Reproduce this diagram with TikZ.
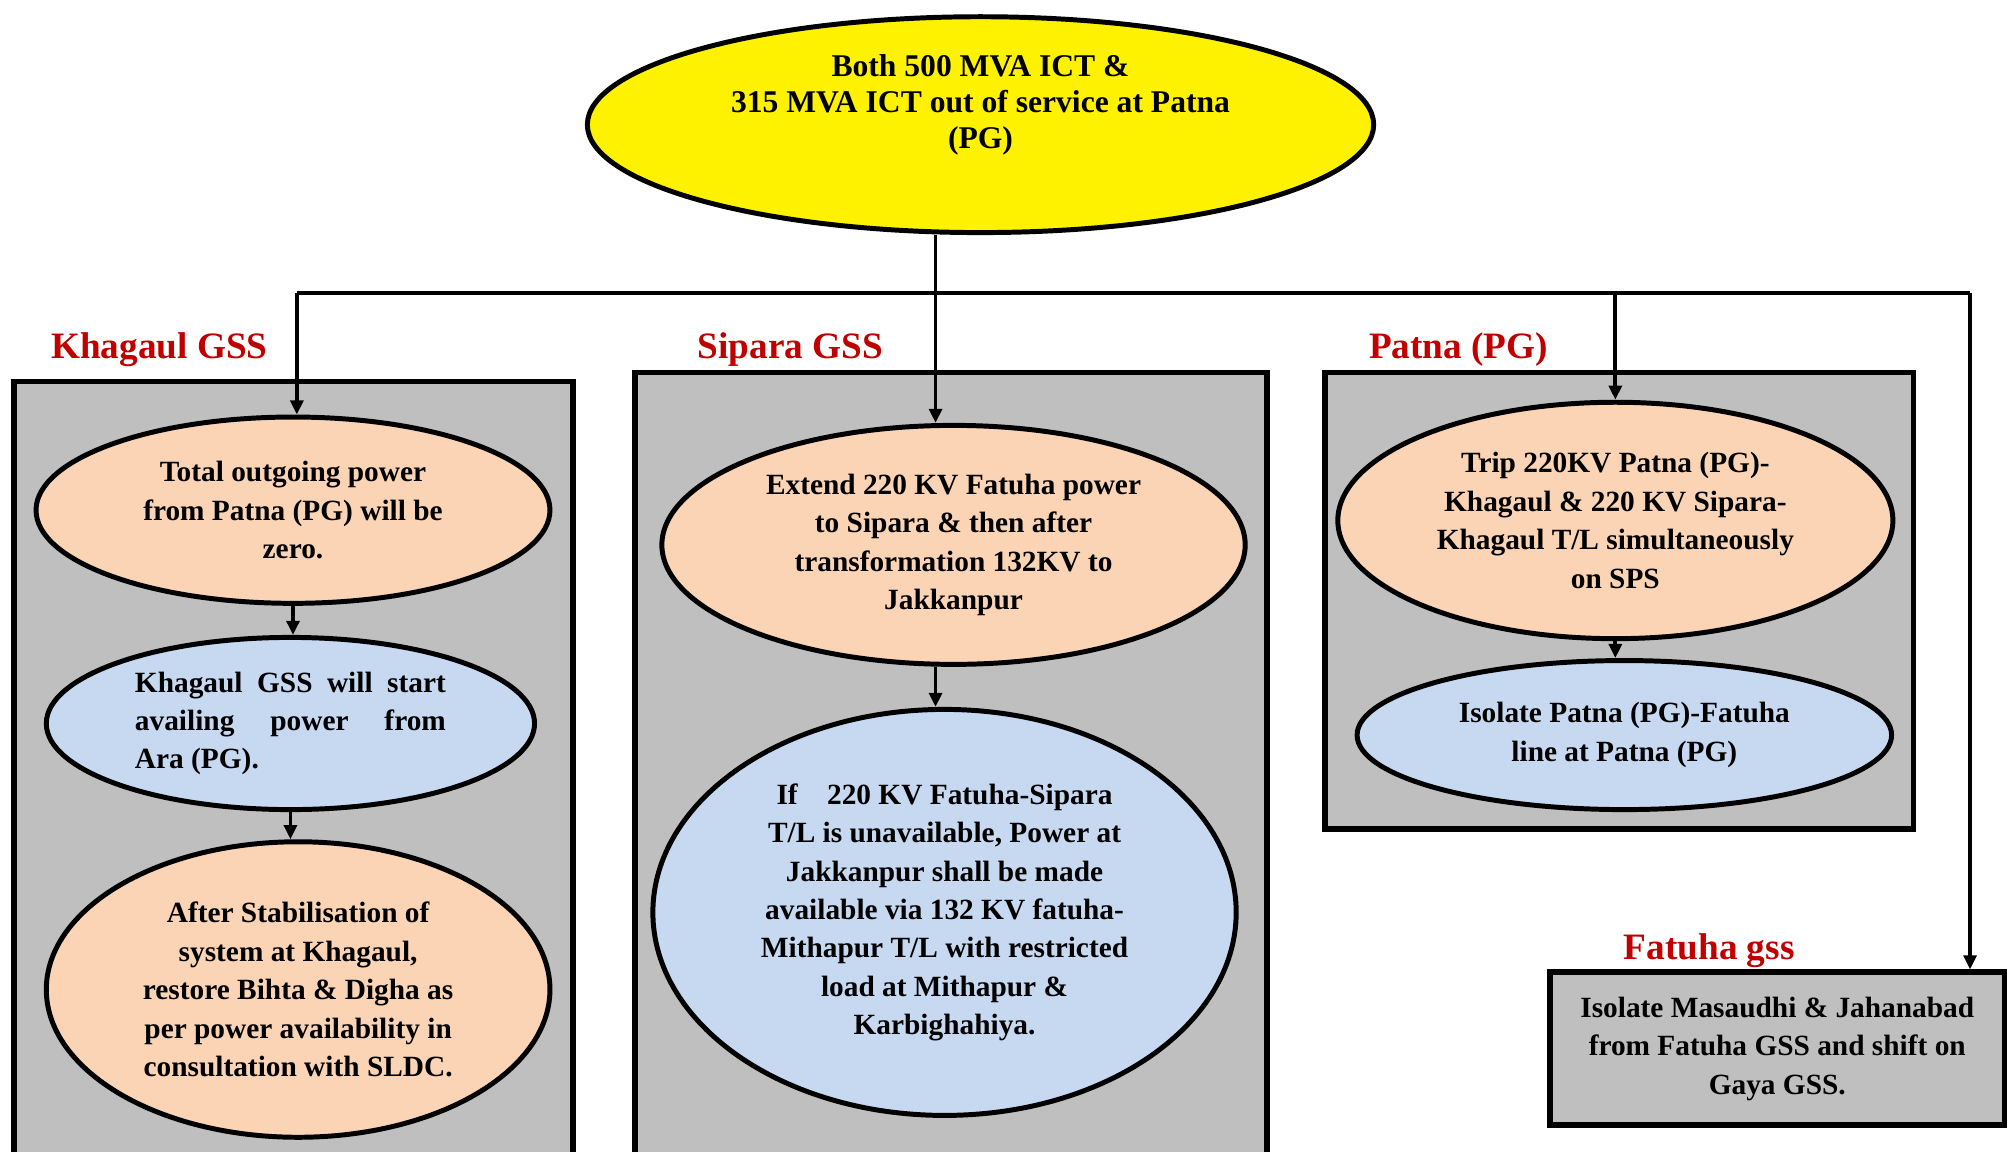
\documentclass[tikz,border=0pt]{standalone}
\usepackage{fontspec}
\setmainfont{Liberation Serif}
\usetikzlibrary{shapes.geometric,arrows.meta}
\definecolor{peach}{HTML}{FAD4B4}
\definecolor{paleblue}{HTML}{C6D9F0}
\definecolor{boxgray}{HTML}{BFBFBF}
\definecolor{darkred}{HTML}{C00000}
\begin{document}
\begin{tikzpicture}[x=0.02cm, y=-0.02cm, >={Triangle[length=0.22cm,width=0.2cm]},
    oval/.style={ellipse, draw, line width=2.2pt, inner sep=0pt, align=center,
      font=\fontsize{13}{17}\selectfont\bfseries},
    stepone/.style={oval, fill=peach},
    steptwo/.style={oval, fill=paleblue},
    group/.style={draw, line width=2.4pt, fill=boxgray},
    title/.style={text=darkred, font=\fontsize{16.5}{20}\selectfont\bfseries},
    link/.style={line width=1.7pt}]
  \useasboundingbox (0,0) rectangle (1568,896);
  \clip (0,0) rectangle (1568,896);

  % station boxes
  \draw[group] (11,297) rectangle (446,920);
  \draw[group] (494,290) rectangle (986,920);
  \draw[group] (1031,290) rectangle (1489,645);

  \node[title] (khagaul) at (124,272) {Khagaul GSS};
  \node[title] (sipara) at (615,272) {Sipara GSS};
  \node[title] (patna) at (1135,272) {Patna (PG)};
  \node[title] (fatuha) at (1330,740) {Fatuha gss};

  % event
  \node[oval, fill=yellow, minimum width=12.24cm, minimum height=3.36cm,
    font=\fontsize{14}{16}\selectfont\bfseries] (outage) at (763,97)
    {Both 500 MVA ICT \&\\315 MVA ICT out of service at Patna\\(PG)\\\strut};

  % Khagaul
  \node[stepone, minimum width=8cm, minimum height=2.9cm] (k1) at (228,397)
    {Total outgoing power\\from Patna (PG) will be\\zero.};
  \node[steptwo, minimum width=7.6cm, minimum height=2.68cm, text width=4.84cm,
    align=justify] (k2) at (226,563)
    {Khagaul GSS will start\linebreak availing power from\linebreak Ara (PG).};
  \node[stepone, minimum width=7.84cm, minimum height=4.6cm] (k3) at (232,770)
    {After Stabilisation of\\system at Khagaul,\\restore Bihta \& Digha as\\per power availability in\\consultation with SLDC.};

  % Sipara
  \node[stepone, minimum width=9.08cm, minimum height=3.72cm] (s1) at (742,424)
    {Extend 220 KV Fatuha power\\to Sipara \& then after\\transformation 132KV to\\Jakkanpur};
  \node[steptwo, minimum width=9.08cm, minimum height=6.32cm] (s2) at (735,710)
    {If\quad 220 KV Fatuha-Sipara\\T/L is unavailable, Power at\\Jakkanpur shall be made\\available via 132 KV fatuha-\\Mithapur T/L with restricted\\load at Mithapur \&\\Karbighahiya.};

  % Patna (PG)
  \node[stepone, minimum width=8.64cm, minimum height=3.68cm] (p1) at (1257,405)
    {Trip 220KV Patna (PG)-\\Khagaul \& 220 KV Sipara-\\Khagaul T/L simultaneously\\on SPS};
  \node[steptwo, minimum width=8.32cm, minimum height=2.32cm] (p2) at (1264,572)
    {Isolate Patna (PG)-Fatuha\\line at Patna (PG)};

  % Fatuha
  \node[group, rectangle, minimum width=7.08cm, minimum height=2.38cm, align=center,
    font=\fontsize{13}{17}\selectfont\bfseries] (f1) at (1383,816)
    {Isolate Masaudhi \& Jahanabad\\from Fatuha GSS and shift on\\Gaya GSS.};

  % connectors
  \coordinate (busL) at (231,228);
  \coordinate (busR) at (1533,228);
  \coordinate (stem) at (728,228);
  \draw[link] (busL) -- (busR);
  \draw[link,->] (outage.south -| stem) -- (stem |- s1.north);
  \draw[link,->] (busL) -- (busL |- k1.north);
  \draw[link,->] (busL -| p1.north) -- (p1.north);
  \draw[link,->] (busR) -- (busR |- f1.north);
  \draw[link,->] (k1.south) -- (k1.south |- k2.north);
  \draw[link,->] (k2.south) -- (k2.south |- k3.north);
  \draw[link,->] (s1.south -| stem) -- (stem |- s2.north);
  \draw[link,->] (p1.south) -- (p1.south |- p2.north);
\end{tikzpicture}
\end{document}
